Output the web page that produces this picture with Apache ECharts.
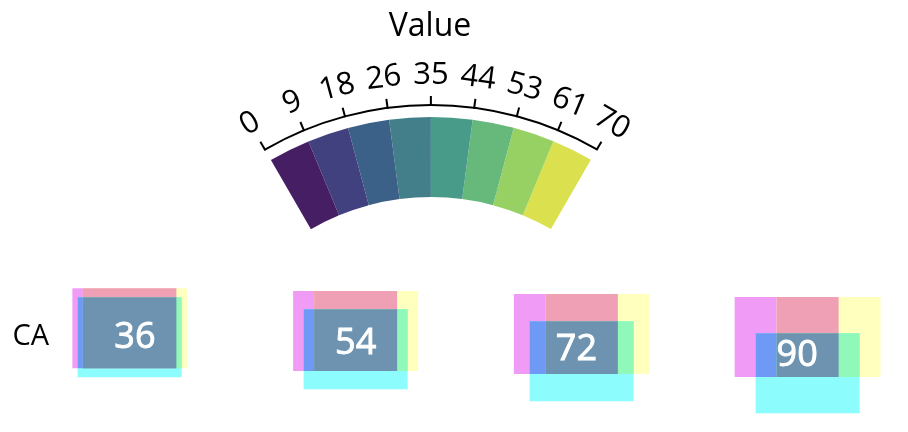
<!DOCTYPE html>
<html><head><meta charset="utf-8">
<script src="https://cdn.jsdelivr.net/npm/echarts@6/dist/echarts.min.js"></script>
<style>html,body{margin:0;padding:0;background:#fff}#c{width:908px;height:432px}</style>
</head><body><div id="c"></div>
<script>
// ---- data ----
const rowCategories = ['CA'];
const columnCategories = ['g1', 'g2', 'g3', 'g4'];
const glyphValues = [36, 54, 72, 90];
const legendTitle = 'Value';
const gaugeMin = 0;
const gaugeMax = 70;
const gaugeTickLabels = ['0', '9', '18', '26', '35', '44', '53', '61', '70'];
const bandColors = ['#461e64', '#42417f', '#3c6188', '#427f8a', '#499b89', '#66b87b', '#97d063', '#dbe04e'];

// ---- styles ----
const FONT = '"Open Sans", "Noto Sans", sans-serif';
const COL = {
  m: '#f09cf7', y: '#ffffbe', c: '#8cfcfc',
  my: '#f0a0b4', mc: '#6e99f5', yc: '#90f8b8', myc: '#6e93b0'
};
const nSplit = gaugeTickLabels.length - 1;
const center = [431, 437];
const startA = 120.02, endA = 60.02;

const chart = echarts.init(document.getElementById('c'), null, {renderer: 'canvas'});

const bandStops = bandColors.map((c, i) => [(i + 1) / bandColors.length, c]);

const baseGauge = {
  type: 'gauge', center: center, startAngle: startA, endAngle: endA,
  min: gaugeMin, max: gaugeMax, splitNumber: nSplit,
  pointer: {show: false}, anchor: {show: false}, progress: {show: false},
  title: {show: false}, detail: {show: false}, axisTick: {show: false},
  data: [{value: gaugeMin}], silent: true, animation: false
};

function inter(a, b) {
  const x1 = Math.max(a.x, b.x), y1 = Math.max(a.y, b.y);
  const x2 = Math.min(a.x + a.width, b.x + b.width), y2 = Math.min(a.y + a.height, b.y + b.height);
  return {x: x1, y: y1, width: Math.max(0, x2 - x1), height: Math.max(0, y2 - y1)};
}

chart.setOption({
  animation: false,
  title: {
    text: legendTitle, left: 425, top: 6, textAlign: 'center',
    textStyle: {fontFamily: FONT, fontSize: 32, fontWeight: 'normal', color: '#000'}
  },
  grid: {left: 25, right: 0, top: 297, bottom: 55},
  xAxis: {type: 'category', data: columnCategories, show: false},
  yAxis: {
    type: 'category', data: rowCategories,
    axisLine: {show: false}, axisTick: {show: false}, splitLine: {show: false},
    axisLabel: {fontFamily: FONT, fontSize: 29, color: '#000', margin: -24}
  },
  series: [
    Object.assign({}, baseGauge, {
      radius: 320,
      axisLine: {lineStyle: {width: 80, color: bandStops}},
      splitLine: {show: true, length: 80, distance: 0, lineStyle: {color: '#fff', width: 1}},
      axisLabel: {show: false}
    }),
    Object.assign({}, baseGauge, {
      radius: 333,
      axisLine: {lineStyle: {width: 2, color: [[1, '#000']]}},
      splitLine: {show: true, length: 10, distance: -10, lineStyle: {color: '#000', width: 2}},
      axisLabel: {
        show: true, distance: -29, rotate: 'tangential', color: '#000',
        fontFamily: FONT, fontSize: 31,
        formatter: v => gaugeTickLabels[Math.round((v - gaugeMin) / (gaugeMax - gaugeMin) * nSplit)]
      }
    }),
    {
      type: 'custom', coordinateSystem: 'cartesian2d', clip: false, silent: true,
      data: glyphValues.map((v, i) => [i, 0, v]),
      renderItem: function (params, api) {
        const c = api.coord([api.value(0), api.value(1)]);
        const v = api.value(2);
        const d = (v - 18) * 0.583;
        const W = 104, H = 80;
        const mx = c[0] - 11, my = c[1] - 11.8 + 0.28 * d;
        const R = (x, y) => ({x: x - W / 2, y: y - H / 2, width: W, height: H});
        const rm = R(mx, my), ry = R(mx + d, my), rc = R(mx + d / 2, my + 0.866 * d);
        const rmy = inter(rm, ry), rmc = inter(rm, rc), ryc = inter(ry, rc), rall = inter(rmy, rc);
        const el = (s, col) => ({type: 'rect', shape: s, style: {fill: col}});
        return {
          type: 'group', children: [
            el(rm, COL.m), el(ry, COL.y), el(rc, COL.c),
            el(rmy, COL.my), el(rmc, COL.mc), el(ryc, COL.yc), el(rall, COL.myc),
            {type: 'text', style: {text: String(v), x: c[0] - 0.5, y: c[1] - 5 + 0.56 * d,
              align: 'center', verticalAlign: 'middle', fill: '#fff',
              stroke: '#fff', lineWidth: 0.9,
              font: 'normal 36px ' + FONT}}
          ]
        };
      }
    }
  ]
});
</script>
</body></html>
